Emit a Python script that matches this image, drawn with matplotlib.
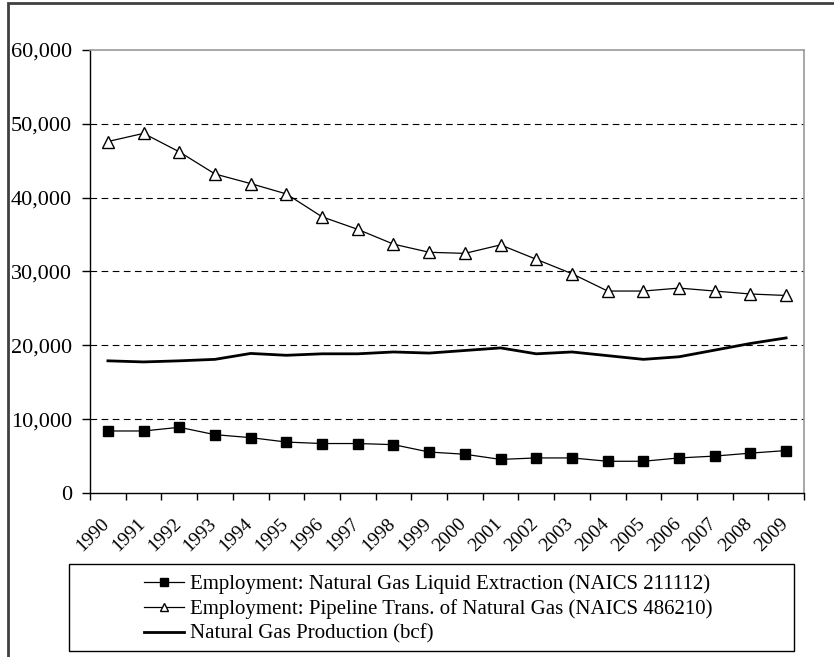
import matplotlib
import matplotlib.pyplot as plt
import matplotlib.transforms as mtransforms
from matplotlib.patches import Rectangle
from matplotlib.ticker import FuncFormatter

matplotlib.use('Agg')
plt.rcParams['font.family'] = ['Liberation Serif', 'DejaVu Serif']

years = [str(y) for y in range(1990, 2010)]
ngl_extraction = [8400, 8400, 8900, 7900, 7500, 6900, 6700, 6700, 6550, 5550,
                  5250, 4550, 4750, 4750, 4300, 4300, 4750, 5000, 5400, 5750]
pipeline = [47600, 48700, 46200, 43200, 41900, 40500, 37400, 35700, 33700, 32600,
            32450, 33600, 31650, 29700, 27350, 27350, 27750, 27350, 26950, 26750]
gas_production = [17900, 17750, 17900, 18100, 18900, 18650, 18850, 18850, 19100, 18950,
                  19300, 19650, 18850, 19100, 18600, 18100, 18450, 19350, 20250, 21000]

fig = plt.figure(figsize=(8.34, 6.57), dpi=100)
ax = fig.add_axes([0.108, 0.2496, 0.856, 0.6744])

x = list(range(len(years)))
l1, = ax.plot(x, ngl_extraction, color='black', lw=0.9, marker='s', ms=7.5,
              mfc='black', mec='black')
l2, = ax.plot(x, pipeline, color='black', lw=0.9, marker='^', ms=8.5,
              mfc='white', mec='black', mew=1.0)
l3, = ax.plot(x, gas_production, color='black', lw=2.0)

ax.set_xlim(-0.5, len(years) - 0.5)
ax.set_ylim(0, 60000)
ax.set_yticks(range(0, 60001, 10000))
ax.yaxis.set_major_formatter(FuncFormatter(lambda v, p: f'{int(v):,}'))
ax.tick_params(axis='y', labelsize=16, direction='out', length=6, width=1, pad=7)

# ticks at category boundaries, labels at centres
ax.set_xticks([i - 0.5 for i in range(len(years) + 1)])
ax.set_xticklabels([])
ax.set_xticks(x, minor=True)
ax.set_xticklabels(years, minor=True, rotation=45, ha='right', va='top',
                   rotation_mode='anchor', fontsize=14)
ax.tick_params(axis='x', which='major', direction='out', length=5, width=1)
ax.tick_params(axis='x', which='minor', length=0, pad=16)
shift = mtransforms.ScaledTranslation(-5 / 72, 0, fig.dpi_scale_trans)
for lab in ax.get_xticklabels(minor=True):
    lab.set_transform(lab.get_transform() + shift)

for v in range(10000, 60000, 10000):
    ax.axhline(v, color='black', lw=0.8, ls=(0, (6, 4)), zorder=0)

for side in ['top', 'right']:
    ax.spines[side].set_color('#999999')
    ax.spines[side].set_linewidth(1.2)
for side in ['left', 'bottom']:
    ax.spines[side].set_color('black')
    ax.spines[side].set_linewidth(1.0)

# legend box
fig.patches.append(Rectangle((69 / 834, 6 / 657), 725 / 834, 87 / 657,
                             transform=fig.transFigure, fill=False,
                             edgecolor='black', lw=1.0))
fig.legend([l1, l2, l3],
           ['Employment: Natural Gas Liquid Extraction (NAICS 211112)',
            'Employment: Pipeline Trans. of Natural Gas (NAICS 486210)',
            'Natural Gas Production (bcf)'],
           loc='center left', bbox_to_anchor=(144 / 834, 48 / 657),
           frameon=False, fontsize=15, handlelength=1.9, handletextpad=0.3,
           labelspacing=0.25, borderpad=0, borderaxespad=0, markerscale=0.75)

# outer frame
fig.patches.append(Rectangle((8 / 834, -0.1), 1.2, 0.1 + 654 / 657,
                             transform=fig.transFigure, fill=False,
                             edgecolor='#404040', lw=2.0, clip_on=False))

fig.savefig('out.png', dpi=100)
plt.close()
